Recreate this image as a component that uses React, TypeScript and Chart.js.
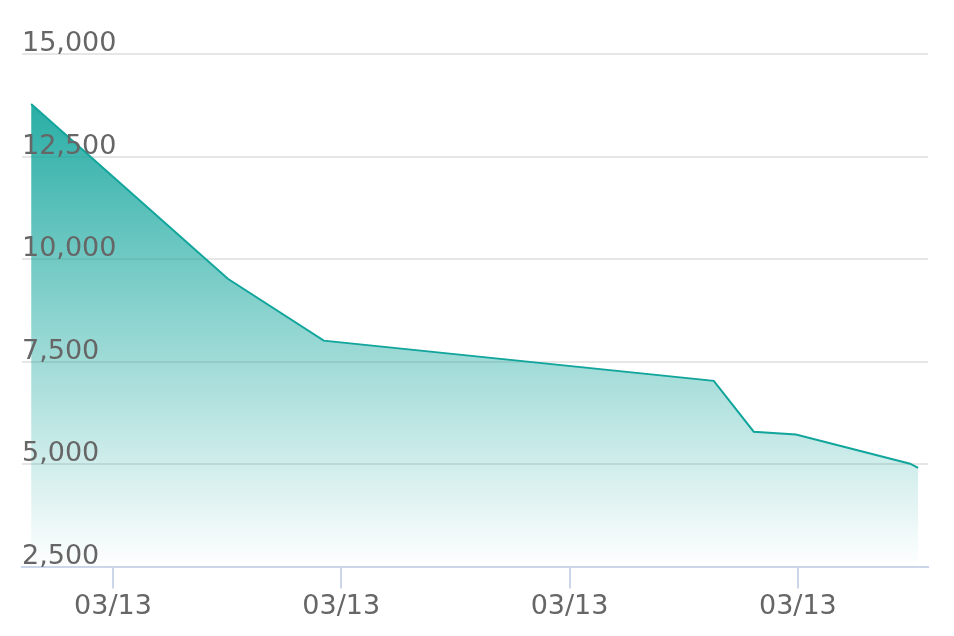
import React, { useEffect, useRef } from "react";
import { Chart, registerables } from "chart.js";

Chart.register(...registerables);

// x positions in minutes relative to the first tick
const xValues = [-21.5, 30.2, 55.4, 157.9, 168.4, 179.5, 209.5, 211.6];
const yValues = [13780, 9520, 8010, 7030, 5790, 5720, 5010, 4910];
const xTickValues = [0, 60, 120, 180];
const xTickLabels = ["03/13", "03/13", "03/13", "03/13"];
const yTickValues = [2500, 5000, 7500, 10000, 12500, 15000];

export default function App() {
  const ref = useRef<HTMLCanvasElement | null>(null);

  useEffect(() => {
    const canvas = ref.current;
    if (!canvas) return;
    const font = { family: "DejaVu Sans", size: 27 };
    const chart = new Chart(canvas, {
      type: "line",
      data: {
        datasets: [
          {
            data: xValues.map((x, i) => ({ x, y: yValues[i] })),
            borderColor: "#12a59c",
            borderWidth: 2,
            pointRadius: 0,
            tension: 0,
            fill: "start",
            backgroundColor: (ctx: any) => {
              const ca = ctx.chart.chartArea;
              if (!ca) return "rgba(18,165,156,0.5)";
              const g = ctx.chart.ctx.createLinearGradient(0, ca.top, 0, ca.bottom);
              g.addColorStop(0, "rgba(18,165,156,1)");
              g.addColorStop(1, "rgba(18,165,156,0)");
              return g;
            },
          },
        ],
      },
      options: {
        animation: false,
        responsive: true,
        maintainAspectRatio: false,
        layout: { padding: { left: 22, right: 26, top: 54, bottom: 11 } },
        plugins: { legend: { display: false }, tooltip: { enabled: false } },
        scales: {
          x: {
            type: "linear",
            min: -23.9,
            max: 214.2,
            afterBuildTicks: (scale: any) => {
              scale.ticks = xTickValues.map((v) => ({ value: v }));
            },
            grid: {
              drawOnChartArea: false,
              drawTicks: true,
              tickLength: 22,
              color: "#ccd6eb",
              lineWidth: 2,
            },
            border: { display: true, color: "#ccd6eb", width: 2, z: 1 },
            ticks: {
              padding: 2,
              color: "#666666",
              font,
              maxRotation: 0,
              autoSkip: false,
              callback: (_v: any, i: number) => xTickLabels[i],
            },
          },
          y: {
            type: "linear",
            position: "left",
            min: 2500,
            max: 15000,
            afterBuildTicks: (scale: any) => {
              scale.ticks = yTickValues.map((v) => ({ value: v }));
            },
            grid: { color: "#e6e6e6", lineWidth: 2, drawTicks: false },
            border: { display: false },
            ticks: {
              z: 1,
              mirror: true,
              padding: 0,
              labelOffset: -10,
              color: "#666666",
              font,
              callback: (v: any) => Number(v).toLocaleString("en-US"),
            },
          },
        },
      },
    });
    return () => chart.destroy();
  }, []);

  return (
    <div style={{ position: "fixed", left: 0, top: 0, width: 954, height: 636 }}>
      <canvas ref={ref} />
    </div>
  );
}
